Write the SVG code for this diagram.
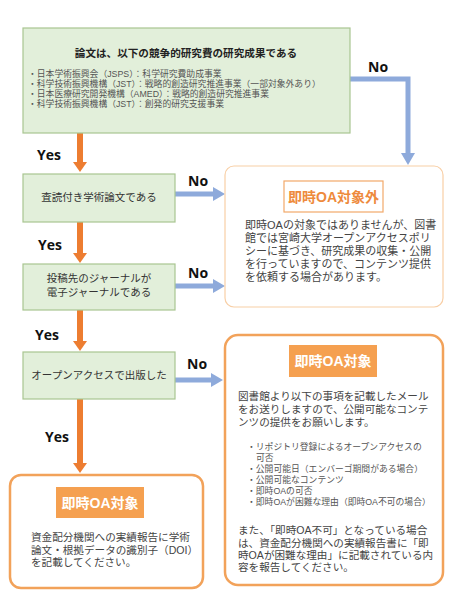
<svg xmlns="http://www.w3.org/2000/svg" width="450" height="600" viewBox="0 0 450 600">
<defs>
<style>
text{font-family:"Liberation Sans","Noto Sans CJK JP",sans-serif;fill:#3a3a3a}
.dec{fill:#e2efda;stroke:#a9c591;stroke-width:1.2}
.dt{font-size:10.5px;text-anchor:middle;fill:#333}
.bl{font-size:8.8px;fill:#555}
.body{font-size:11px;fill:#444}
.body2{font-size:10.6px;fill:#444}
.yn{font-family:"Open Sans","Liberation Sans",sans-serif;font-weight:700;font-size:14px;fill:#111}
.oarr{stroke:#ed7d31;stroke-width:6;fill:none}
.barr{stroke:#8eaadb;stroke-width:5;fill:none}
.lab{font-size:14px;font-weight:700;text-anchor:middle}
</style>
<marker id="ho" markerUnits="userSpaceOnUse" markerWidth="10" markerHeight="14" viewBox="0 0 10 14" refX="0" refY="7" orient="auto"><path d="M0,0L10,7L0,14z" fill="#ed7d31"/></marker>
<marker id="hb" markerUnits="userSpaceOnUse" markerWidth="12" markerHeight="14" viewBox="0 0 12 14" refX="0" refY="7" orient="auto"><path d="M0,0L12,7L0,14z" fill="#8eaadb"/></marker>
</defs>
<rect width="450" height="600" fill="#fff"/>

<g id="connectors">
<line class="oarr" x1="80" y1="133" x2="80" y2="162" marker-end="url(#ho)"/>
<line class="oarr" x1="80" y1="222" x2="80" y2="253" marker-end="url(#ho)"/>
<line class="oarr" x1="80" y1="310" x2="80" y2="341" marker-end="url(#ho)"/>
<line class="oarr" x1="80" y1="399" x2="80" y2="463" marker-end="url(#ho)"/>
<path class="barr" d="M350,79H408V153" marker-end="url(#hb)"/>
<line class="barr" x1="175" y1="194" x2="213" y2="194" marker-end="url(#hb)"/>
<line class="barr" x1="175" y1="286" x2="213" y2="286" marker-end="url(#hb)"/>
<line class="barr" x1="175" y1="380" x2="211" y2="380" marker-end="url(#hb)"/>
<text class="yn" x="37" y="160">Yes</text>
<text class="yn" x="38" y="250">Yes</text>
<text class="yn" x="35" y="340">Yes</text>
<text class="yn" x="45" y="442">Yes</text>
<text class="yn" x="368" y="72">No</text>
<text class="yn" x="188" y="186">No</text>
<text class="yn" x="188" y="278">No</text>
<text class="yn" x="187" y="369">No</text>
</g>

<g id="n-funding">
<rect class="dec" x="23" y="28" width="327" height="105"/>
<text x="186" y="57" style="font-size:10.6px;font-weight:700;text-anchor:middle;fill:#222">論文は、以下の競争的研究費の研究成果である</text>
<text class="bl" x="28" y="77"><tspan x="28" y="77">・日本学術振興会（JSPS）：科学研究費助成事業</tspan><tspan x="28" y="87">・科学技術振興機構（JST）：戦略的創造研究推進事業（一部対象外あり）</tspan><tspan x="28" y="97">・日本医療研究開発機構（AMED）：戦略的創造研究推進事業</tspan><tspan x="28" y="107">・科学技術振興機構（JST）：創発的研究支援事業</tspan></text>
</g>

<g id="n-peer">
<rect class="dec" x="23" y="174" width="152" height="48"/>
<text class="dt" x="99" y="201">査読付き学術論文である</text>
</g>

<g id="n-ejournal">
<rect class="dec" x="23" y="264" width="152" height="46"/>
<text class="dt" x="99" y="282"><tspan x="99" y="282">投稿先のジャーナルが</tspan><tspan x="99" y="296">電子ジャーナルである</tspan></text>
</g>

<g id="n-oa">
<rect class="dec" x="23" y="352" width="152" height="47"/>
<text class="dt" x="99" y="379">オープンアクセスで出版した</text>
</g>

<g id="n-notarget">
<rect x="225" y="166" width="218" height="141" rx="9" fill="#fff" stroke="#f8cfa6" stroke-width="1.2"/>
<rect x="284" y="181" width="99" height="31" fill="#fff" stroke="#f2a869" stroke-width="1.2"/>
<text class="lab" x="333.5" y="202" style="fill:#ee8a3c">即時OA対象外</text>
<text class="body" x="245" y="229"><tspan x="245" y="229">即時OAの対象ではありませんが、図書</tspan><tspan x="245" y="242">館では宮崎大学オープンアクセスポリ</tspan><tspan x="245" y="255">シーに基づき、研究成果の収集・公開</tspan><tspan x="245" y="268">を行っていますので、コンテンツ提供</tspan><tspan x="245" y="281">を依頼する場合があります。</tspan></text>
</g>

<g id="n-target-right">
<rect x="225" y="335" width="218" height="250" rx="13" fill="#fff" stroke="#f2a25a" stroke-width="2.5"/>
<rect x="289" y="345" width="88" height="32" fill="#f5a050"/>
<text class="lab" x="333" y="366" style="fill:#fff">即時OA対象</text>
<text class="body2" x="238" y="400"><tspan x="238" y="400">図書館より以下の事項を記載したメール</tspan><tspan x="238" y="413">をお送りしますので、公開可能なコンテ</tspan><tspan x="238" y="426">ンツの提供をお願いします。</tspan></text>
<text class="bl" x="247" y="450"><tspan x="247" y="450">・リポジトリ登録によるオープンアクセスの</tspan><tspan x="256" y="461">可否</tspan><tspan x="247" y="472">・公開可能日（エンバーゴ期間がある場合）</tspan><tspan x="247" y="483">・公開可能なコンテンツ</tspan><tspan x="247" y="494">・即時OAの可否</tspan><tspan x="247" y="505">・即時OAが困難な理由（即時OA不可の場合）</tspan></text>
<text class="body2" x="238" y="534"><tspan x="238" y="534">また、「即時OA不可」となっている場合</tspan><tspan x="238" y="546.5">は、資金配分機関への実績報告書に「即</tspan><tspan x="238" y="558.5">時OAが困難な理由」に記載されている内</tspan><tspan x="238" y="570.5">容を報告してください。</tspan></text>
</g>

<g id="n-target-left">
<rect x="10" y="475" width="193" height="113" rx="11" fill="#fff" stroke="#f2a25a" stroke-width="2.5"/>
<rect x="56" y="487" width="88" height="31" fill="#f5a050"/>
<text class="lab" x="100" y="508" style="fill:#fff">即時OA対象</text>
<text class="body2" x="31" y="541"><tspan x="31" y="541">資金配分機関への実績報告に学術</tspan><tspan x="31" y="553.5">論文・根拠データの識別子（DOI）</tspan><tspan x="31" y="566">を記載してください。</tspan></text>
</g>
</svg>
